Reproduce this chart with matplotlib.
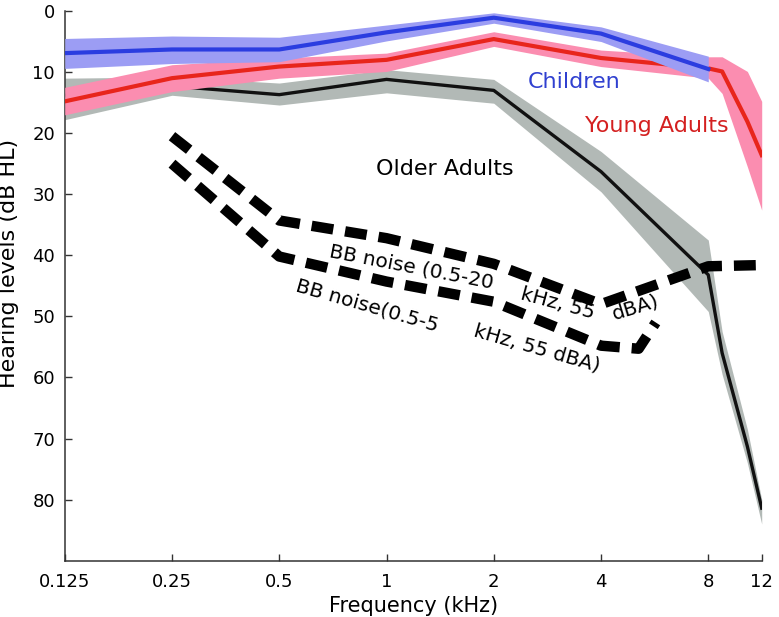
import numpy as np
import matplotlib.pyplot as plt
from matplotlib.ticker import NullLocator

plt.rcParams['font.family'] = ['DejaVu Sans']

# ---- data (kHz / dB HL) ----
freq_std = [0.125, 0.25, 0.5, 1, 2, 4, 8]
freq_ext = [0.125, 0.25, 0.5, 1, 2, 4, 8, 8.75, 10.3, 11.3]

child_mean = [6.9, 6.3, 6.3, 3.5, 1.1, 3.7, 9.5]
child_lo   = [4.5, 4.1, 4.3, 2.3, 0.3, 2.6, 7.4]
child_hi   = [9.4, 8.6, 8.3, 4.9, 2.0, 5.0, 11.6]

young_mean = [14.8, 11.0, 9.1, 8.0, 4.6, 7.7, 9.4, 9.9, 18.1, 23.6]
young_lo   = [12.5, 8.8, 7.7, 6.9, 3.4, 6.4, 7.5, 7.5, 9.9, 14.8]
young_hi   = [17.0, 13.2, 11.0, 9.9, 5.8, 9.1, 11.0, 13.5, 25.5, 32.6]

older_mean = [13.8, 12.3, 13.7, 11.2, 13.0, 26.3, 43.2, 56.0, 71.3, 81.4]
older_lo   = [11.0, 10.8, 11.8, 9.6, 11.2, 23.0, 37.5, 52.5, 68.5, 80.0]
older_hi   = [17.8, 13.8, 15.4, 13.4, 15.1, 29.6, 49.2, 59.5, 74.0, 84.0]

noise_wide_f    = [0.25, 0.5, 1, 2, 4, 8, 11.3]
noise_wide_db   = [20.5, 34.3, 37.2, 41.4, 48.0, 41.8, 41.6]
noise_narrow_f  = [0.25, 0.5, 1, 2, 4, 5.1, 5.7]
noise_narrow_db = [25.0, 40.2, 44.3, 47.6, 54.8, 55.3, 51.0]

xticks = [0.125, 0.25, 0.5, 1, 2, 4, 8, 11.3]
xticklabels = ['0.125', '0.25', '0.5', '1', '2', '4', '8', '12']
yticks = [0, 10, 20, 30, 40, 50, 60, 70, 80]

# colours
C_BLUE, C_BLUE_F = '#2b3de0', '#9c9df4'
C_RED, C_RED_F = '#e8251b', '#fb8db0'
C_BLK, C_GRY_F = '#111111', '#b2b9b6'

fig = plt.figure(figsize=(7.79, 6.17), dpi=100)
ax = fig.add_axes([0.0831, 0.0913, 0.8947, 0.8909])

# older adults
ax.fill_between(freq_ext, older_lo, older_hi, color=C_GRY_F, lw=0, zorder=1)
ax.plot(freq_ext, older_mean, color=C_BLK, lw=2.4, zorder=2)
# young adults
ax.fill_between(freq_ext, young_lo, young_hi, color=C_RED_F, lw=0, zorder=3)
ax.plot(freq_ext, young_mean, color=C_RED, lw=3, zorder=4)
# children
ax.fill_between(freq_std, child_lo, child_hi, color=C_BLUE_F, lw=0, zorder=5)
ax.plot(freq_std, child_mean, color=C_BLUE, lw=3, zorder=6)

# noise spectra (thick dashed)
dash = (0, (2.1, 1.15))
ax.plot(noise_wide_f, noise_wide_db, color='black', lw=7.5, ls=dash,
        dash_capstyle='butt', zorder=7)
ax.plot(noise_narrow_f, noise_narrow_db, color='black', lw=7.5, ls=dash,
        dash_capstyle='butt', zorder=7)

# group labels
ax.text(3.36, 11.7, 'Children', color='#3040d0', fontsize=16,
        ha='center', va='center')
ax.text(5.75, 18.8, 'Young Adults', color='#d42020', fontsize=16,
        ha='center', va='center')
ax.text(1.46, 25.9, 'Older Adults', color='black', fontsize=16,
        ha='center', va='center')

# noise labels, following the dashed curves
tk = dict(fontsize=14.5, ha='left', va='baseline', rotation_mode='anchor', zorder=8)
ax.text(0.686, 40.2, 'BB noise (0.5-20', rotation=-11, **tk)
ax.text(2.36, 47.2, 'kHz, 55', rotation=-15, **tk)
ax.text(4.35, 50.6, 'dBA)', rotation=17, **tk)
ax.text(0.553, 45.7, 'BB noise(0.5-5', rotation=-16, **tk)
ax.text(1.74, 53.2, 'kHz, 55 dBA)', rotation=-16, **tk)

# axes
ax.set_xscale('log', base=2)
ax.set_xlim(0.125, 11.3)
ax.set_ylim(90, 0)
ax.set_xticks(xticks)
ax.set_xticklabels(xticklabels)
ax.xaxis.set_minor_locator(NullLocator())
ax.set_yticks(yticks)
ax.tick_params(direction='in', length=5, width=1, labelsize=13, color='#333333')
ax.tick_params(axis='x', pad=9)
ax.tick_params(axis='y', pad=7)
for s in ['top', 'right']:
    ax.spines[s].set_visible(False)
for s in ['left', 'bottom']:
    ax.spines[s].set_linewidth(1.1)
    ax.spines[s].set_color('#333333')

ax.set_xlabel('Frequency (kHz)', fontsize=15)
ax.set_ylabel('Hearing levels (dB HL)', fontsize=16)
ax.xaxis.set_label_coords(0.5, -0.064)
ax.yaxis.set_label_coords(-0.066, 0.54)

fig.savefig('out.png', dpi=100)
